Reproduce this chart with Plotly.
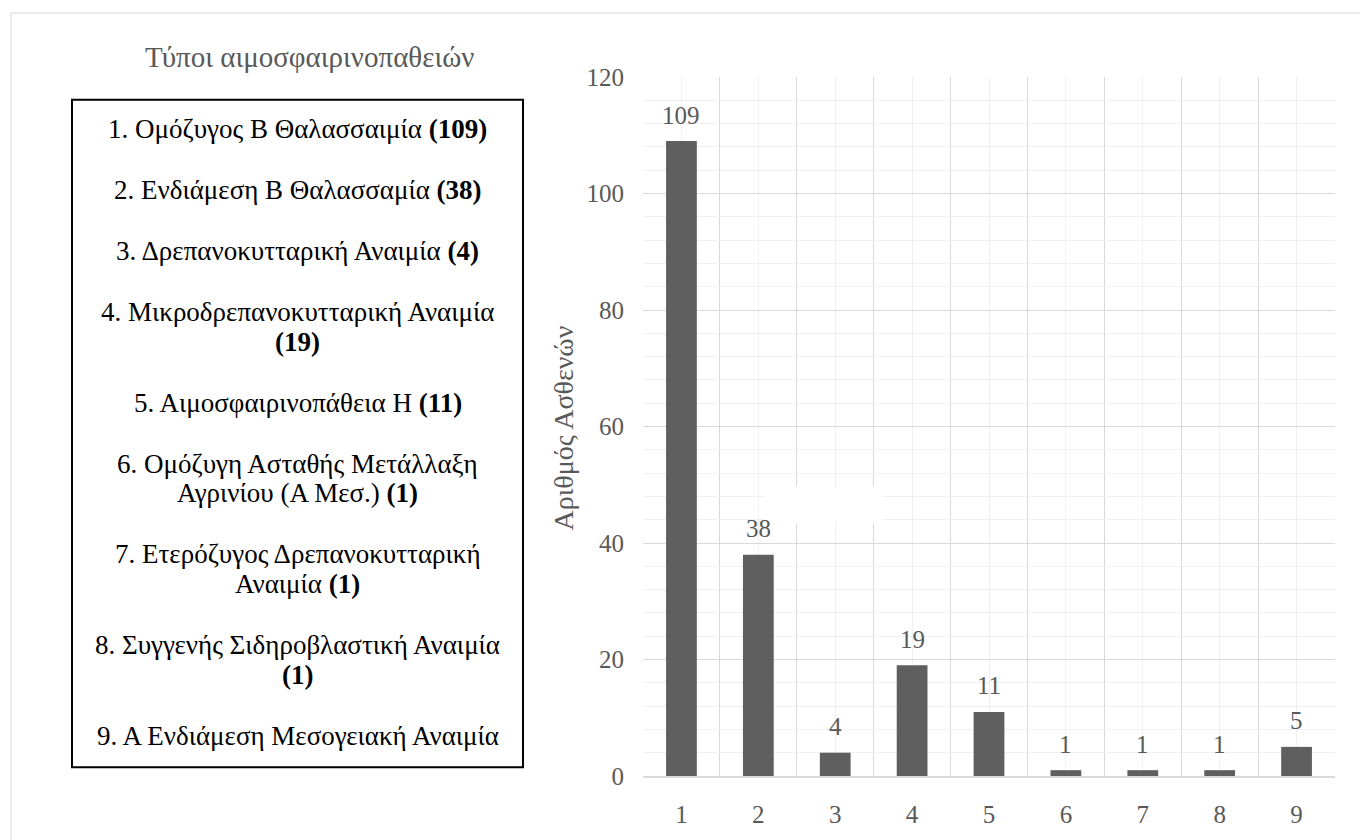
import plotly.graph_objects as go

# Patient counts per haemoglobinopathy type
categories = [1, 2, 3, 4, 5, 6, 7, 8, 9]
counts = [109, 38, 4, 19, 11, 1, 1, 1, 5]

# Names listed in the side panel; "|" marks a manual line break
type_names = [
    "Ομόζυγος Β Θαλασσαιμία",
    "Ενδιάμεση Β Θαλασσαμία",
    "Δρεπανοκυτταρική Αναιμία",
    "Μικροδρεπανοκυτταρική Αναιμία",
    "Αιμοσφαιρινοπάθεια Η",
    "Ομόζυγη Ασταθής Μετάλλαξη|Αγρινίου (Α Μεσ.)",
    "Ετερόζυγος Δρεπανοκυτταρική|Αναιμία",
    "Συγγενής Σιδηροβλαστική Αναιμία",
    "Α Ενδιάμεση Μεσογειακή Αναιμία",
]
count_on_new_line = [False, False, False, True, False, False, False, True, False]
show_count = [True, True, True, True, True, True, True, True, False]

panel_title = "Τύποι αιμοσφαιρινοπαθειών"
y_title = "Αριθμός Ασθενών"
y_ticks = [0, 20, 40, 60, 80, 100, 120]

W, H = 1360, 840
L, R, T, B = 643, 1335, 77, 787
GRAY_TXT = "#595959"
SERIF = "Liberation Serif"


def px(x):
    return (x - L) / (R - L)


def py(y):
    return (B - y) / (B - T)


fig = go.Figure()
fig.add_trace(go.Bar(
    x=categories, y=counts, width=0.4,
    marker=dict(color="#5f5f5f", line=dict(width=0)),
    hoverinfo="x+y", showlegend=False,
))

annotations = []
# value labels above each bar
for c, v in zip(categories, counts):
    annotations.append(dict(
        x=c, y=v, xref="x", yref="y", text=str(v), showarrow=False,
        yanchor="middle", yshift=26,
        font=dict(family=SERIF, size=25, color=GRAY_TXT),
    ))

# side panel title
annotations.append(dict(
    x=px(309), y=py(57), xref="paper", yref="paper", text=panel_title,
    showarrow=False, xanchor="center", yanchor="middle",
    font=dict(family=SERIF, size=29, color=GRAY_TXT),
))

# y axis title
annotations.append(dict(
    x=px(563), y=py(434), xref="paper", yref="paper", text=y_title,
    showarrow=False, textangle=-90, xanchor="center", yanchor="middle",
    font=dict(family=SERIF, size=28, color=GRAY_TXT),
))

# numbered list inside the panel
y_cursor = 130
for i, (name, c, newline, show) in enumerate(
        zip(type_names, counts, count_on_new_line, show_count), start=1):
    lines = f"{i}. {name}".split("|")
    if show:
        tag = f"<b>({c})</b>"
        if newline:
            lines.append(tag)
        else:
            lines[-1] = lines[-1] + " " + tag
    for j, line in enumerate(lines):
        annotations.append(dict(
            x=px(297.5), y=py(y_cursor), xref="paper", yref="paper",
            text=line, showarrow=False, xanchor="center", yanchor="middle",
            font=dict(family=SERIF, size=27, color="#000000"),
        ))
        if j < len(lines) - 1:
            y_cursor += 30
    y_cursor += 62

shapes = [
    # outer chart frame
    dict(type="rect", xref="paper", yref="paper",
         x0=px(11), x1=px(1400), y0=py(12), y1=py(900),
         line=dict(color="#d9d9d9", width=1), fillcolor="rgba(0,0,0,0)",
         layer="below"),
    # panel box
    dict(type="rect", xref="paper", yref="paper",
         x0=px(72), x1=px(523), y0=py(100), y1=py(778),
         line=dict(color="#000000", width=2), fillcolor="rgba(0,0,0,0)",
         layer="above"),
    # blank patch over the grid
    dict(type="rect", xref="x", yref="y",
         x0=2.09, x1=3.61, y0=43.4, y1=49.7,
         line=dict(width=0), fillcolor="#ffffff", layer="between"),
]

fig.update_layout(
    width=W, height=H,
    margin=dict(l=L, r=W - R, t=T, b=H - B, pad=0),
    paper_bgcolor="#ffffff", plot_bgcolor="#ffffff",
    font=dict(family=SERIF),
    annotations=annotations,
    shapes=shapes,
    xaxis=dict(
        range=[0.5, 9.5], tickmode="array", tickvals=categories,
        ticktext=[str(c) for c in categories],
        showgrid=True, gridcolor="#f0f0f0", gridwidth=1,
        minor=dict(tickmode="array",
                   tickvals=[c - 0.5 for c in categories] + [categories[-1] + 0.5],
                   showgrid=True, gridcolor="#d9d9d9", gridwidth=1),
        showline=True, linecolor="#d9d9d9", linewidth=2,
        mirror=False, ticks="", ticklabelstandoff=15,
        zeroline=False, fixedrange=True,
        tickfont=dict(family=SERIF, size=25, color=GRAY_TXT),
    ),
    yaxis=dict(
        range=[0, 120], tickmode="array", tickvals=y_ticks,
        showgrid=True, gridcolor="#d9d9d9", gridwidth=1,
        minor=dict(dtick=4, tick0=0, showgrid=True, gridcolor="#f0f0f0",
                   gridwidth=1),
        showline=False, zeroline=False, ticks="", ticklabelstandoff=18,
        fixedrange=True,
        tickfont=dict(family=SERIF, size=25, color=GRAY_TXT),
    ),
)

fig.write_html("out.html")
